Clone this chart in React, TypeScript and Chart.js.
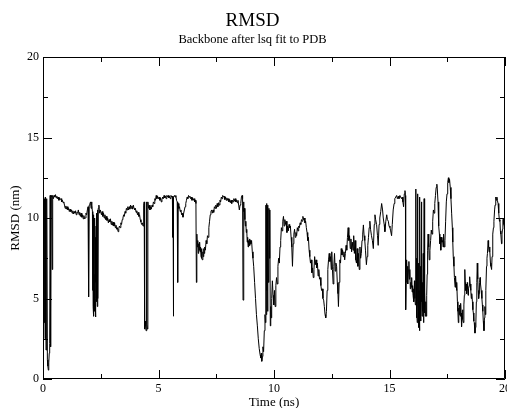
import React, { useEffect, useRef } from "react";
import { Chart, registerables } from "chart.js";

Chart.register(...registerables);

// RMSD trace (time in ns, RMSD in nm), in segments
const seg0to2_5: [number, number][] = [
  [0.0, 11.2], [0.03, 11.3], [0.05, 3.5], [0.07, 11.2], [0.09, 2.5], [0.11, 11.3],
  [0.13, 1.8], [0.15, 6.0], [0.17, 11.2], [0.19, 1.2], [0.21, 0.8], [0.23, 0.55],
  [0.25, 1.0], [0.27, 1.6], [0.29, 2.2], [0.31, 11.4], [0.33, 2.0], [0.35, 11.4],
  [0.38, 11.3], [0.4, 6.8], [0.42, 11.4], [0.45, 11.2], [0.48, 11.4], [0.51, 11.3],
  [0.54, 11.45], [0.57, 11.25], [0.6, 11.35], [0.63, 11.2], [0.66, 11.3], [0.69, 11.1],
  [0.72, 11.25], [0.75, 11.15], [0.78, 11.2], [0.81, 11.0], [0.84, 11.1], [0.87, 10.95],
  [0.9, 11.0], [0.93, 10.8], [0.96, 10.6], [0.99, 10.75], [1.02, 10.55], [1.05, 10.7],
  [1.08, 10.5], [1.11, 10.6], [1.14, 10.4], [1.17, 10.55], [1.2, 10.4], [1.23, 10.5],
  [1.26, 10.3], [1.29, 10.45], [1.32, 10.25], [1.35, 10.4], [1.38, 10.3], [1.41, 10.45],
  [1.44, 10.2], [1.47, 10.35], [1.5, 10.3], [1.53, 10.5], [1.56, 10.2], [1.59, 10.35],
  [1.62, 10.1], [1.65, 10.3], [1.68, 10.05], [1.71, 10.2], [1.74, 9.95], [1.77, 10.15],
  [1.8, 9.95], [1.83, 10.0], [1.86, 10.3], [1.89, 10.2], [1.92, 10.5], [1.95, 10.7],
  [1.97, 10.6], [1.98, 5.1], [2.0, 10.8], [2.03, 10.9], [2.06, 11.0], [2.08, 10.6],
  [2.1, 11.0], [2.12, 10.8], [2.14, 10.4], [2.15, 5.5], [2.16, 9.8], [2.17, 4.5],
  [2.18, 8.0], [2.19, 10.2], [2.2, 3.9], [2.21, 6.5], [2.22, 9.0], [2.23, 4.2],
  [2.24, 7.5], [2.25, 10.0], [2.26, 5.0], [2.27, 8.8], [2.28, 3.85], [2.29, 6.0],
  [2.3, 9.5], [2.31, 4.8], [2.32, 7.8], [2.33, 10.3], [2.35, 4.5], [2.36, 10.5],
  [2.38, 5.0], [2.39, 10.6], [2.42, 10.8], [2.45, 10.3], [2.48, 10.5],
];

const seg2_5to5: [number, number][] = [
  [2.5, 10.5], [2.53, 10.2], [2.56, 10.4], [2.59, 10.1], [2.62, 10.3], [2.65, 10.0],
  [2.68, 10.2], [2.71, 9.9], [2.74, 10.1], [2.77, 9.85], [2.8, 10.0], [2.83, 9.7],
  [2.86, 9.9], [2.89, 9.75], [2.92, 9.95], [2.95, 9.6], [2.98, 9.8], [3.01, 9.55],
  [3.04, 9.75], [3.07, 9.5], [3.1, 9.7], [3.13, 9.4], [3.16, 9.55], [3.19, 9.3],
  [3.22, 9.4], [3.25, 9.15], [3.28, 9.35], [3.31, 9.5], [3.34, 9.4], [3.37, 9.7],
  [3.4, 9.6], [3.43, 9.9], [3.46, 10.0], [3.49, 10.2], [3.52, 10.1], [3.55, 10.4],
  [3.58, 10.3], [3.61, 10.6], [3.64, 10.5], [3.67, 10.7], [3.7, 10.5], [3.73, 10.7],
  [3.76, 10.55], [3.79, 10.8], [3.82, 10.6], [3.85, 10.75], [3.88, 10.55], [3.91, 10.8],
  [3.94, 10.6], [3.97, 10.5], [4.0, 10.6], [4.03, 10.35], [4.06, 10.45], [4.09, 10.2],
  [4.12, 10.35], [4.15, 10.1], [4.18, 10.2], [4.21, 9.9], [4.24, 9.75], [4.27, 9.6],
  [4.3, 9.7], [4.33, 9.5], [4.36, 10.8], [4.38, 11.0], [4.4, 3.1], [4.42, 3.6],
  [4.44, 3.3], [4.46, 3.0], [4.48, 11.0], [4.5, 3.4], [4.52, 3.1], [4.54, 11.0],
  [4.57, 10.6], [4.6, 10.8], [4.63, 10.5], [4.66, 10.7], [4.69, 10.55], [4.72, 10.8],
  [4.75, 10.7], [4.78, 11.0], [4.81, 10.9], [4.84, 11.2], [4.87, 11.1], [4.9, 11.4],
  [4.93, 11.2], [4.96, 11.35], [5.0, 11.2],
];

const seg5to7_5: [number, number][] = [
  [5.03, 11.3], [5.06, 11.1], [5.09, 11.25], [5.12, 11.0], [5.15, 11.15], [5.18, 11.3],
  [5.21, 11.2], [5.24, 11.4], [5.27, 11.25], [5.3, 11.35], [5.33, 11.2], [5.36, 11.4],
  [5.39, 11.3], [5.42, 11.4], [5.45, 11.25], [5.48, 11.35], [5.51, 11.2], [5.54, 11.4],
  [5.57, 11.3], [5.6, 11.35], [5.62, 8.8], [5.63, 11.2], [5.64, 3.9], [5.66, 11.3],
  [5.69, 11.4], [5.72, 11.3], [5.75, 11.4], [5.78, 11.1], [5.81, 11.0], [5.83, 6.0],
  [5.85, 10.9], [5.88, 10.6], [5.91, 10.7], [5.94, 10.4], [5.97, 10.5], [6.0, 10.2],
  [6.03, 10.3], [6.06, 10.05], [6.09, 10.3], [6.12, 10.5], [6.15, 10.7], [6.18, 10.9],
  [6.21, 11.1], [6.24, 11.3], [6.27, 11.2], [6.3, 11.4], [6.33, 11.3], [6.36, 11.35],
  [6.39, 11.2], [6.42, 11.3], [6.45, 11.1], [6.48, 11.25], [6.51, 11.1], [6.54, 11.2],
  [6.57, 11.0], [6.6, 11.1], [6.62, 10.9], [6.64, 6.0], [6.66, 9.0], [6.68, 8.2],
  [6.7, 8.6], [6.72, 7.8], [6.74, 8.4], [6.76, 8.0], [6.78, 8.5], [6.8, 7.9],
  [6.82, 8.2], [6.84, 7.6], [6.86, 8.1], [6.88, 7.5], [6.9, 7.4], [6.92, 7.9],
  [6.94, 7.6], [6.96, 8.1], [6.98, 7.8], [7.0, 8.2], [7.03, 8.0], [7.06, 8.6],
  [7.09, 8.4], [7.12, 8.9], [7.15, 8.8], [7.18, 9.4], [7.21, 9.8], [7.24, 10.2],
  [7.27, 10.4], [7.3, 10.5], [7.33, 10.3], [7.36, 10.5], [7.39, 10.35], [7.42, 10.7],
  [7.45, 10.6], [7.48, 10.8],
];

const seg7_5to10: [number, number][] = [
  [7.51, 10.6], [7.54, 10.9], [7.57, 10.7], [7.6, 10.95], [7.63, 10.8], [7.66, 11.1],
  [7.69, 11.0], [7.72, 11.3], [7.75, 11.2], [7.78, 11.4], [7.81, 11.3], [7.84, 11.35],
  [7.87, 11.15], [7.9, 11.3], [7.93, 11.1], [7.96, 11.25], [7.99, 11.1], [8.02, 11.2],
  [8.05, 11.0], [8.08, 11.15], [8.11, 10.95], [8.14, 11.1], [8.17, 10.9], [8.2, 11.1],
  [8.23, 11.0], [8.26, 11.2], [8.29, 11.05], [8.32, 11.2], [8.35, 11.0], [8.38, 11.1],
  [8.41, 10.95], [8.44, 11.1], [8.47, 10.8], [8.5, 10.5], [8.53, 10.8], [8.56, 10.9],
  [8.59, 11.3], [8.62, 11.4], [8.64, 11.2], [8.66, 4.9], [8.68, 11.0], [8.7, 10.4],
  [8.72, 10.6], [8.74, 9.9], [8.76, 9.5], [8.78, 9.8], [8.8, 9.1], [8.82, 9.3],
  [8.84, 8.5], [8.86, 8.8], [8.88, 8.2], [8.9, 8.6], [8.92, 8.3], [8.94, 8.7],
  [8.96, 8.3], [8.98, 8.6], [9.0, 8.4], [9.03, 8.6], [9.06, 7.9], [9.09, 7.5],
  [9.12, 7.0], [9.16, 6.0], [9.2, 5.0], [9.24, 4.0], [9.28, 3.3], [9.32, 2.5],
  [9.36, 1.9], [9.4, 1.5], [9.43, 1.3], [9.45, 1.6], [9.47, 1.1], [9.5, 1.4],
  [9.52, 2.0], [9.55, 1.7], [9.58, 3.0], [9.61, 4.0], [9.63, 3.5], [9.65, 10.8],
  [9.66, 4.0], [9.68, 10.9], [9.69, 5.5], [9.71, 10.7], [9.72, 4.2], [9.74, 10.8],
  [9.76, 6.0], [9.78, 10.6], [9.8, 7.5], [9.82, 10.5], [9.84, 3.3], [9.86, 4.5],
  [9.88, 3.8], [9.9, 5.0], [9.93, 6.1], [9.96, 5.2], [9.99, 4.6],
];

const seg10to12_5: [number, number][] = [
  [10.02, 5.5], [10.05, 4.5], [10.08, 5.8], [10.11, 6.3], [10.14, 5.9], [10.17, 7.0],
  [10.2, 7.5], [10.23, 7.2], [10.26, 8.2], [10.29, 8.6], [10.32, 9.4], [10.35, 9.2],
  [10.38, 9.8], [10.41, 10.1], [10.44, 9.5], [10.47, 9.9], [10.5, 9.6], [10.53, 9.8],
  [10.56, 9.1], [10.59, 9.5], [10.62, 9.2], [10.65, 9.6], [10.68, 9.4], [10.71, 9.5],
  [10.74, 8.8], [10.77, 8.2], [10.8, 7.0], [10.83, 8.4], [10.86, 9.0], [10.89, 9.3],
  [10.92, 8.8], [10.95, 9.1], [10.98, 8.9], [11.01, 9.4], [11.04, 9.2], [11.07, 9.5],
  [11.1, 9.4], [11.13, 9.7], [11.16, 9.6], [11.19, 9.9], [11.22, 9.8], [11.25, 10.1],
  [11.28, 9.9], [11.31, 10.0], [11.34, 9.7], [11.37, 9.8], [11.4, 9.4], [11.43, 9.1],
  [11.46, 8.6], [11.49, 8.8], [11.52, 8.0], [11.55, 7.6], [11.58, 7.2], [11.61, 7.4],
  [11.64, 6.6], [11.67, 6.9], [11.7, 6.3], [11.73, 6.8], [11.76, 7.6], [11.79, 7.1],
  [11.82, 7.4], [11.85, 6.9], [11.88, 7.2], [11.91, 6.4], [11.94, 6.8], [11.97, 6.2],
  [12.0, 6.3], [12.03, 5.8], [12.06, 5.5], [12.09, 5.6], [12.12, 5.0], [12.15, 4.9],
  [12.18, 4.5], [12.21, 4.0], [12.24, 3.8], [12.27, 4.2], [12.3, 5.5], [12.33, 6.8],
  [12.36, 7.4], [12.39, 7.8], [12.42, 7.3], [12.45, 7.6], [12.48, 6.8], [12.5, 7.9],
];

const seg12_5to15: [number, number][] = [
  [12.53, 6.8], [12.56, 5.9], [12.59, 7.0], [12.62, 7.8], [12.65, 6.7], [12.68, 7.2],
  [12.71, 7.0], [12.74, 6.0], [12.77, 5.3], [12.79, 4.5], [12.82, 6.0], [12.85, 7.4],
  [12.88, 7.2], [12.91, 8.1], [12.94, 7.7], [12.97, 8.0], [13.0, 7.6], [13.03, 7.9],
  [13.06, 7.4], [13.09, 7.8], [13.12, 8.3], [13.15, 8.0], [13.18, 8.8], [13.21, 9.4],
  [13.24, 8.6], [13.27, 8.9], [13.3, 8.1], [13.33, 8.7], [13.36, 7.9], [13.39, 8.5],
  [13.42, 8.0], [13.45, 8.9], [13.48, 7.8], [13.51, 8.6], [13.54, 7.4], [13.57, 7.2],
  [13.6, 8.1], [13.63, 7.0], [13.66, 7.8], [13.69, 6.8], [13.72, 8.2], [13.75, 7.5],
  [13.78, 7.8], [13.81, 8.6], [13.84, 9.0], [13.87, 9.57], [13.9, 8.9], [13.93, 8.6],
  [13.96, 8.0], [14.0, 7.1], [14.03, 7.6], [14.06, 8.3], [14.09, 8.8], [14.12, 9.4],
  [14.15, 9.8], [14.18, 9.3], [14.22, 8.9], [14.26, 8.6], [14.3, 8.1], [14.34, 9.6],
  [14.37, 10.2], [14.4, 9.9], [14.44, 9.6], [14.48, 8.9], [14.51, 8.3], [14.55, 9.6],
  [14.58, 10.0], [14.62, 10.4], [14.66, 10.9], [14.7, 10.5], [14.73, 10.0], [14.77, 9.6],
  [14.8, 9.15], [14.84, 9.8], [14.88, 10.2], [14.91, 9.9], [14.95, 9.8], [14.98, 9.5],
];

const seg15to17_5: [number, number][] = [
  [15.02, 9.4], [15.05, 9.2], [15.09, 8.9], [15.12, 9.6], [15.16, 10.5], [15.2, 10.9],
  [15.23, 11.2], [15.27, 11.3], [15.31, 11.4], [15.34, 11.2], [15.38, 11.35], [15.41, 11.2],
  [15.45, 11.4], [15.48, 11.3], [15.52, 11.2], [15.55, 11.3], [15.58, 11.0], [15.61, 10.7],
  [15.64, 11.5], [15.67, 11.7], [15.69, 11.4], [15.7, 4.3], [15.72, 6.0], [15.74, 7.4],
  [15.76, 6.6], [15.78, 7.0], [15.8, 5.9], [15.82, 6.8], [15.84, 7.3], [15.86, 6.2],
  [15.88, 6.8], [15.9, 5.6], [15.92, 6.0], [15.94, 5.7], [15.96, 6.3], [15.98, 5.4],
  [16.0, 5.8], [16.02, 5.2], [16.04, 5.6], [16.06, 4.8], [16.08, 6.1], [16.1, 5.0],
  [16.12, 4.6], [16.14, 11.8], [16.15, 6.0], [16.16, 3.8], [16.18, 7.5], [16.19, 4.4],
  [16.2, 3.5], [16.21, 6.0], [16.22, 11.5], [16.23, 4.8], [16.25, 4.2], [16.26, 7.2],
  [16.27, 3.2], [16.28, 5.5], [16.29, 6.5], [16.3, 3.0], [16.31, 4.5], [16.32, 11.3],
  [16.33, 5.2], [16.34, 4.5], [16.35, 7.0], [16.36, 3.6], [16.37, 6.2], [16.38, 11.0],
  [16.39, 4.8], [16.4, 5.6], [16.41, 3.9], [16.43, 6.0], [16.44, 4.2], [16.46, 7.8],
  [16.47, 3.5], [16.49, 5.0], [16.5, 11.2], [16.51, 4.1], [16.53, 5.4], [16.55, 3.9],
  [16.57, 4.8], [16.59, 3.9], [16.61, 5.2], [16.63, 6.5], [16.65, 8.0], [16.67, 9.0],
  [16.7, 8.2], [16.72, 7.4], [16.75, 8.0], [16.78, 8.6], [16.81, 9.25], [16.84, 9.0],
  [16.87, 9.8], [16.9, 10.5], [16.93, 10.3], [16.96, 10.9], [16.99, 11.4], [17.02, 11.9],
  [17.05, 12.1], [17.07, 11.8], [17.1, 11.0], [17.13, 9.5], [17.16, 9.0], [17.18, 8.4],
  [17.2, 8.8], [17.22, 8.0], [17.25, 8.8], [17.27, 8.5], [17.3, 8.6], [17.32, 8.2],
  [17.34, 9.0], [17.37, 8.2], [17.4, 8.6], [17.43, 9.8], [17.46, 11.0], [17.49, 11.5],
];

const seg17_5to20: [number, number][] = [
  [17.52, 12.2], [17.55, 12.5], [17.57, 12.2], [17.6, 12.4], [17.63, 11.9], [17.66, 11.2],
  [17.69, 10.3], [17.72, 9.4], [17.74, 8.5], [17.76, 7.6], [17.79, 7.0], [17.81, 6.3],
  [17.84, 5.7], [17.86, 6.4], [17.88, 5.9], [17.9, 5.5], [17.92, 6.0], [17.94, 4.8],
  [17.96, 4.2], [17.98, 3.5], [18.0, 4.4], [18.02, 4.0], [18.04, 4.6], [18.06, 3.9],
  [18.08, 4.7], [18.1, 4.1], [18.12, 3.25], [18.14, 3.9], [18.16, 4.3], [18.18, 3.7],
  [18.2, 3.5], [18.22, 4.6], [18.24, 5.2], [18.26, 6.8], [18.28, 6.0], [18.3, 5.5],
  [18.32, 5.9], [18.34, 5.3], [18.36, 5.6], [18.38, 6.0], [18.4, 5.2], [18.42, 5.6],
  [18.45, 5.8], [18.47, 6.35], [18.49, 5.9], [18.52, 5.5], [18.54, 5.0], [18.56, 5.3],
  [18.59, 4.8], [18.61, 4.3], [18.63, 4.1], [18.65, 3.6], [18.67, 3.5], [18.7, 2.85],
  [18.72, 3.2], [18.74, 3.6], [18.76, 4.8], [18.78, 6.0], [18.8, 7.2], [18.82, 6.2],
  [18.84, 5.5], [18.86, 5.0], [18.88, 5.3], [18.9, 6.0], [18.92, 6.3], [18.94, 5.9],
  [18.97, 5.5], [19.0, 5.0], [19.02, 4.6], [19.04, 4.2], [19.06, 3.6], [19.09, 3.0],
  [19.11, 3.8], [19.13, 4.5], [19.15, 4.0], [19.17, 5.5], [19.2, 7.0], [19.22, 7.5],
  [19.24, 7.8], [19.27, 8.6], [19.29, 8.2], [19.31, 7.9], [19.33, 8.2], [19.35, 8.0],
  [19.37, 7.2], [19.39, 7.0], [19.42, 6.8], [19.44, 7.6], [19.46, 8.0], [19.48, 9.0],
  [19.5, 9.4], [19.52, 9.8], [19.55, 10.5], [19.57, 10.8], [19.59, 11.0], [19.61, 11.3],
  [19.63, 11.1], [19.65, 11.3], [19.67, 11.1], [19.7, 10.9], [19.72, 10.5], [19.74, 10.3],
  [19.76, 9.8], [19.78, 9.9], [19.8, 9.2], [19.82, 9.0], [19.85, 8.4], [19.87, 9.0],
  [19.89, 9.3], [19.91, 9.9], [19.93, 10.0], [19.95, 9.6], [19.97, 9.5], [20.0, 9.3],
];

const xTickValues = [0, 5, 10, 15, 20];
const yTickValues = [0, 5, 10, 15, 20];
const titleText = "RMSD";
const subtitleText = "Backbone after lsq fit to PDB";
const xTitle = "Time (ns)";
const yTitle = "RMSD (nm)";

const FONT = "'Liberation Serif', 'DejaVu Serif', serif";

const inwardTicks = {
  id: "inwardTicks",
  afterDraw(chart: any) {
    const { ctx, chartArea } = chart;
    const { left, right, top, bottom } = chartArea;
    const xs = chart.scales.x;
    const ys = chart.scales.y;
    ctx.save();
    ctx.strokeStyle = "#000";
    ctx.lineWidth = 1;
    ctx.beginPath();
    ctx.rect(left + 0.5, top + 0.5, right - left - 1, bottom - top - 1);
    for (let v = 0; v <= 20; v += 2.5) {
      const major = v % 5 === 0;
      const len = major ? 9 : 5;
      const px = Math.round(xs.getPixelForValue(v)) + 0.5;
      ctx.moveTo(px, bottom);
      ctx.lineTo(px, bottom - len);
      ctx.moveTo(px, top);
      ctx.lineTo(px, top + len);
      const py = Math.round(ys.getPixelForValue(v)) + 0.5;
      ctx.moveTo(left, py);
      ctx.lineTo(left + len, py);
      ctx.moveTo(right, py);
      ctx.lineTo(right - len, py);
    }
    ctx.stroke();
    ctx.restore();
  },
};

export default function App() {
  const canvasRef = useRef<HTMLCanvasElement | null>(null);

  useEffect(() => {
    if (!canvasRef.current) return;
    const points = [
      ...seg0to2_5, ...seg2_5to5, ...seg5to7_5, ...seg7_5to10,
      ...seg10to12_5, ...seg12_5to15, ...seg15to17_5, ...seg17_5to20,
    ].map(([x, y]) => ({ x, y }));

    const chart = new Chart(canvasRef.current, {
      type: "line",
      data: {
        datasets: [
          {
            data: points,
            borderColor: "#000",
            borderWidth: 1,
            pointRadius: 0,
            tension: 0,
            fill: false,
          },
        ],
      },
      options: {
        animation: false,
        responsive: false,
        maintainAspectRatio: false,
        layout: { padding: { left: 0, right: 15, top: 0, bottom: 0 } },
        plugins: {
          legend: { display: false },
          tooltip: { enabled: false },
          title: {
            display: true,
            text: titleText,
            color: "#000",
            font: { family: FONT, size: 19, weight: "normal", lineHeight: 1 },
            padding: { top: 12, bottom: 0 },
          },
          subtitle: {
            display: true,
            text: subtitleText,
            color: "#000",
            font: { family: FONT, size: 12.5, weight: "normal", lineHeight: 1 },
            padding: { top: 2, bottom: 11.5 },
          },
        },
        scales: {
          x: {
            type: "linear",
            min: 0,
            max: 20,
            afterBuildTicks: (scale: any) => {
              scale.ticks = xTickValues.map((v) => ({ value: v }));
            },
            afterFit: (scale: any) => {
              scale.height = 29;
            },
            ticks: {
              color: "#000",
              font: { family: FONT, size: 12 },
              padding: 3,
              maxRotation: 0,
              autoSkip: false,
            },
            grid: { display: false, drawTicks: false },
            border: { display: false },
            title: {
              display: true,
              text: xTitle,
              color: "#000",
              font: { family: FONT, size: 13, lineHeight: 1 },
              padding: { top: 0, bottom: -1.5 },
            },
          },
          y: {
            type: "linear",
            min: 0,
            max: 20,
            afterBuildTicks: (scale: any) => {
              scale.ticks = yTickValues.map((v) => ({ value: v }));
            },
            afterFit: (scale: any) => {
              scale.width = 43;
            },
            ticks: {
              color: "#000",
              font: { family: FONT, size: 12 },
              padding: 4,
              autoSkip: false,
            },
            grid: { display: false, drawTicks: false },
            border: { display: false },
            title: {
              display: true,
              text: yTitle,
              color: "#000",
              font: { family: FONT, size: 13 },
              padding: { top: 8, bottom: 0 },
            },
          },
        },
      },
      plugins: [inwardTicks],
    });
    return () => chart.destroy();
  }, []);

  return (
    <div
      style={{
        position: "absolute",
        left: 0,
        top: 0,
        width: 507,
        height: 408,
        overflow: "hidden",
        background: "#fff",
      }}
    >
      <canvas ref={canvasRef} width={520} height={408} style={{ display: "block" }} />
    </div>
  );
}
